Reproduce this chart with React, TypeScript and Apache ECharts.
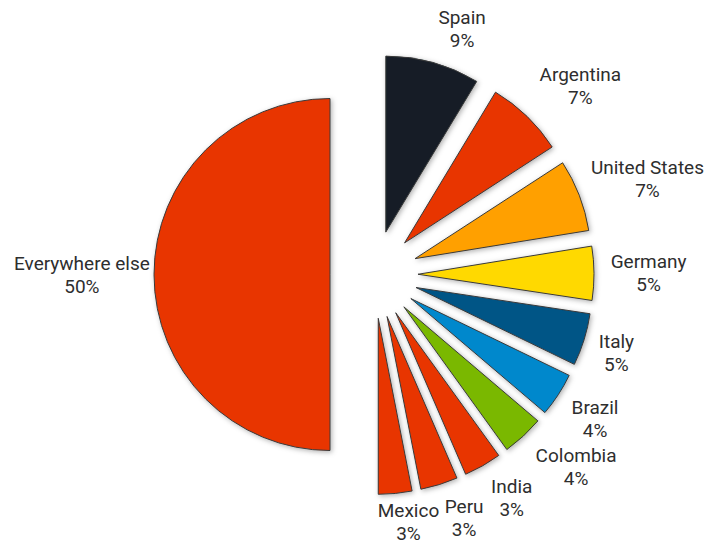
import React, { useEffect, useRef } from "react";
import * as echarts from "echarts";

const categories = [
  "Spain",
  "Argentina",
  "United States",
  "Germany",
  "Italy",
  "Brazil",
  "Colombia",
  "India",
  "Peru",
  "Mexico",
  "Everywhere else",
];
const shares = [8.64, 7.19, 6.61, 4.94, 4.81, 4.03, 3.83, 3.45, 3.42, 3.08, 50];

const palette = [
  "#141d26",
  "#e83400",
  "#ffa000",
  "#ffd900",
  "#005486",
  "#0088cc",
  "#7ab800",
  "#e83400",
  "#e83400",
  "#e83400",
  "#e83400",
];

const WIDTH = 706;
const HEIGHT = 544;
const CENTER: [number, number] = [374, 274.5];
const RADIUS = 176;
const OFFSET = 44;
const LABEL_GAP = 14;
const FONT_SIZE = 19;
const LINE_HEIGHT = 23;
const HALF_TEXT_H = 19;
const EDGE = 14;

export default function App() {
  const ref = useRef<HTMLDivElement>(null);
  useEffect(() => {
    const chart = echarts.init(ref.current!, null, { renderer: "svg" });
    const total = shares.reduce((a, b) => a + b, 0);
    const mids: number[] = [];
    let acc = 0;
    shares.forEach((v) => {
      mids.push(((acc + v / 2) / total) * 2 * Math.PI);
      acc += v;
    });
    const ctx = document.createElement("canvas").getContext("2d")!;
    ctx.font = `${FONT_SIZE}px Roboto`;
    const pctText = (i: number) => `${Math.round((shares[i] / total) * 100)}%`;

    chart.setOption({
      animation: false,
      series: [
        {
          type: "pie",
          center: CENTER,
          radius: RADIUS,
          startAngle: 90,
          clockwise: true,
          selectedMode: "multiple",
          selectedOffset: OFFSET,
          avoidLabelOverlap: false,
          itemStyle: {
            borderColor: "#3a3a3a",
            borderWidth: 1,
            shadowBlur: 5,
            shadowOffsetX: 1.5,
            shadowOffsetY: 1.5,
            shadowColor: "rgba(0,0,0,0.3)",
          },
          label: { show: false },
          labelLine: { show: false },
          emphasis: { disabled: true },
          data: categories.map((name, i) => ({
            name,
            value: shares[i],
            selected: true,
            itemStyle: { color: palette[i] },
          })),
        },
        {
          type: "pie",
          center: CENTER,
          radius: RADIUS,
          startAngle: 90,
          clockwise: true,
          silent: true,
          selectedMode: false,
          avoidLabelOverlap: false,
          itemStyle: { color: "rgba(0,0,0,0)", borderWidth: 0 },
          label: {
            show: true,
            position: "outside",
            formatter: (p: any) => `${p.name}\n${Math.round(p.percent)}%`,
            fontFamily: "Roboto",
            fontSize: FONT_SIZE,
            lineHeight: LINE_HEIGHT,
            color: "#2e2e2e",
            align: "center",
          },
          labelLine: { show: false },
          labelLayout: (p: any) => {
            const i = p.dataIndex;
            const a = mids[i];
            const dx = Math.sin(a);
            const dy = -Math.cos(a);
            const w = Math.max(
              ctx.measureText(categories[i]).width,
              ctx.measureText(pctText(i)).width
            );
            const tipX = CENTER[0] + dx * OFFSET;
            const tipY = CENTER[1] + dy * OFFSET;
            const d = RADIUS + LABEL_GAP;
            const px = tipX + dx * d;
            const py = tipY + dy * d;
            const gx = Math.min(1.07, 4 * Math.abs(dx));
            const gy = Math.min(1.07, 1.6 * Math.abs(dy));
            let x = px + Math.sign(dx) * (w / 2) * gx;
            let y = py + Math.sign(dy) * HALF_TEXT_H * gy;
            x = Math.max(EDGE + w / 2, Math.min(WIDTH - 2 - w / 2, x));
            y = Math.max(HALF_TEXT_H + 8, Math.min(HEIGHT - HALF_TEXT_H - 3, y));
            return { x, y, align: "center", verticalAlign: "middle" };
          },
          emphasis: { disabled: true },
          data: categories.map((name, i) => ({ name, value: shares[i] })),
        },
      ],
    });
    return () => chart.dispose();
  }, []);
  return (
    <div
      ref={ref}
      style={{ position: "absolute", left: 0, top: 0, width: WIDTH, height: HEIGHT }}
    />
  );
}
